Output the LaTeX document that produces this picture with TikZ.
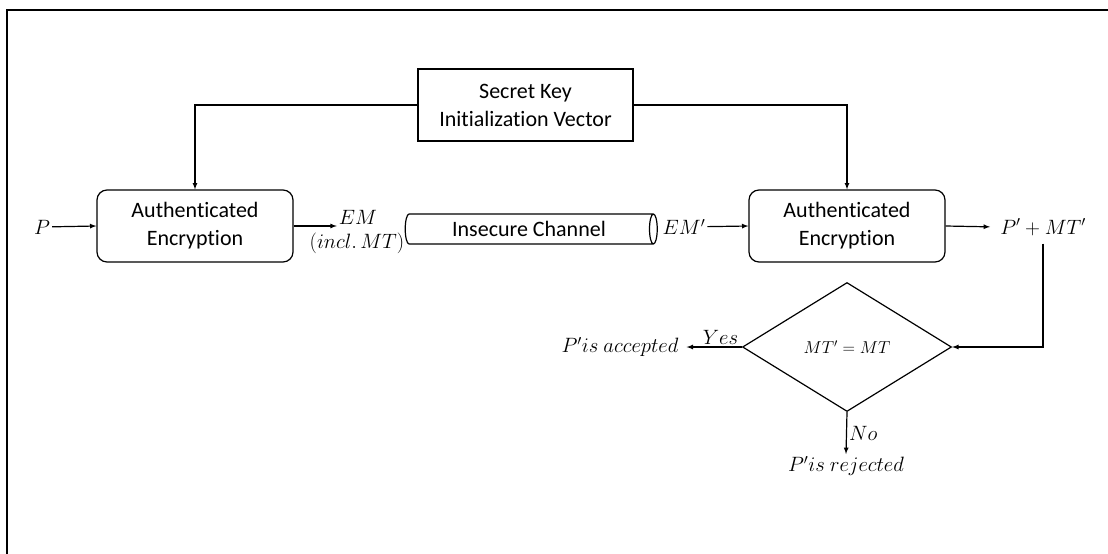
\documentclass[tikz,border=0pt]{standalone}
\usepackage{fontspec}
\setmainfont{Carlito}[Ligatures=NoCommon]
\usepackage{tikz}
\usetikzlibrary{shapes.geometric,arrows.meta,positioning}
\tikzstyle{line} = [draw, line width=1.2pt, >=latex]
\tikzstyle{block} = [draw, line width=1.2pt, rounded corners=10pt, minimum width=196pt, minimum height=72pt, align=center, font=\fontsize{22}{28}\selectfont]
\tikzstyle{keybox} = [draw, line width=1.2pt, minimum width=215pt, minimum height=72pt, align=center, font=\fontsize{22}{28}\selectfont]
\tikzstyle{pipe} = [draw, line width=1.2pt, cylinder, aspect=0.5, minimum width=30pt, minimum height=252pt, inner sep=0pt, font=\fontsize{22}{24}\selectfont]
\tikzstyle{decision} = [draw, line width=1.2pt, diamond, minimum width=209pt, minimum height=129pt, inner sep=0pt, font=\fontsize{18}{20}\selectfont]
\tikzstyle{lbl} = [inner sep=2pt, font=\fontsize{22}{24}\selectfont]
\tikzset{>=latex}

\begin{document}
\begin{tikzpicture}[x=1pt,y=-1pt]
    \useasboundingbox (0,0) rectangle (1108,554);
    \draw [line width=2.5pt] (7,554) -- (7,10) -- (1108,10);

    \node [keybox] (key) at (525.5,105) {Secret Key\\Initialization Vector};
    \node [block] (encA) at (195,226) {Authenticated\\Encryption};
    \node [block] (encB) at (847,226) {Authenticated\\Encryption};
    \node [pipe] (chan) at (529,229) {Insecure Channel};

    \node [lbl] (P) at (42,227) {$P$};
    \node [lbl] (em) at (358,217) {$EM$};
    \node [lbl] (incl) at (357,243) {$(incl.\,MT)$};
    \node [lbl] (emp) at (684,227) {$EM'$};
    \node [lbl] (out) at (1043,227) {$P' + MT'$};

    \node [decision] (cmp) at (847,347) {$MT' = MT$};
    \node [lbl] (acc) at (620,347) {$P'is\ accepted$};
    \node [lbl] (rej) at (846,466) {$P'is\ rejected$};

    \draw [line,->] (key.west) -| (encA.north);
    \draw [line,->] (key.east) -| (encB.north);
    \draw [line,->] (P) -- (encA.west);
    \draw [line,->] (encA.east) -- (encA.east -| em.west);
    \draw [line,->] (emp) -- (encB.west);
    \draw [line,->,shorten >=8pt] (encB.east) -- (out.west);
    \draw [line,->] (out.south) ++(0,6) |- (cmp.east);
    \draw [line,->,shorten >=6pt] (cmp.west) -- (acc.east) node [lbl,pos=0.35,above] {$Yes$};
    \draw [line,->] (cmp.south) -- (rej.north) node [lbl,midway,right] {$No$};
  \end{tikzpicture}
\end{document}
